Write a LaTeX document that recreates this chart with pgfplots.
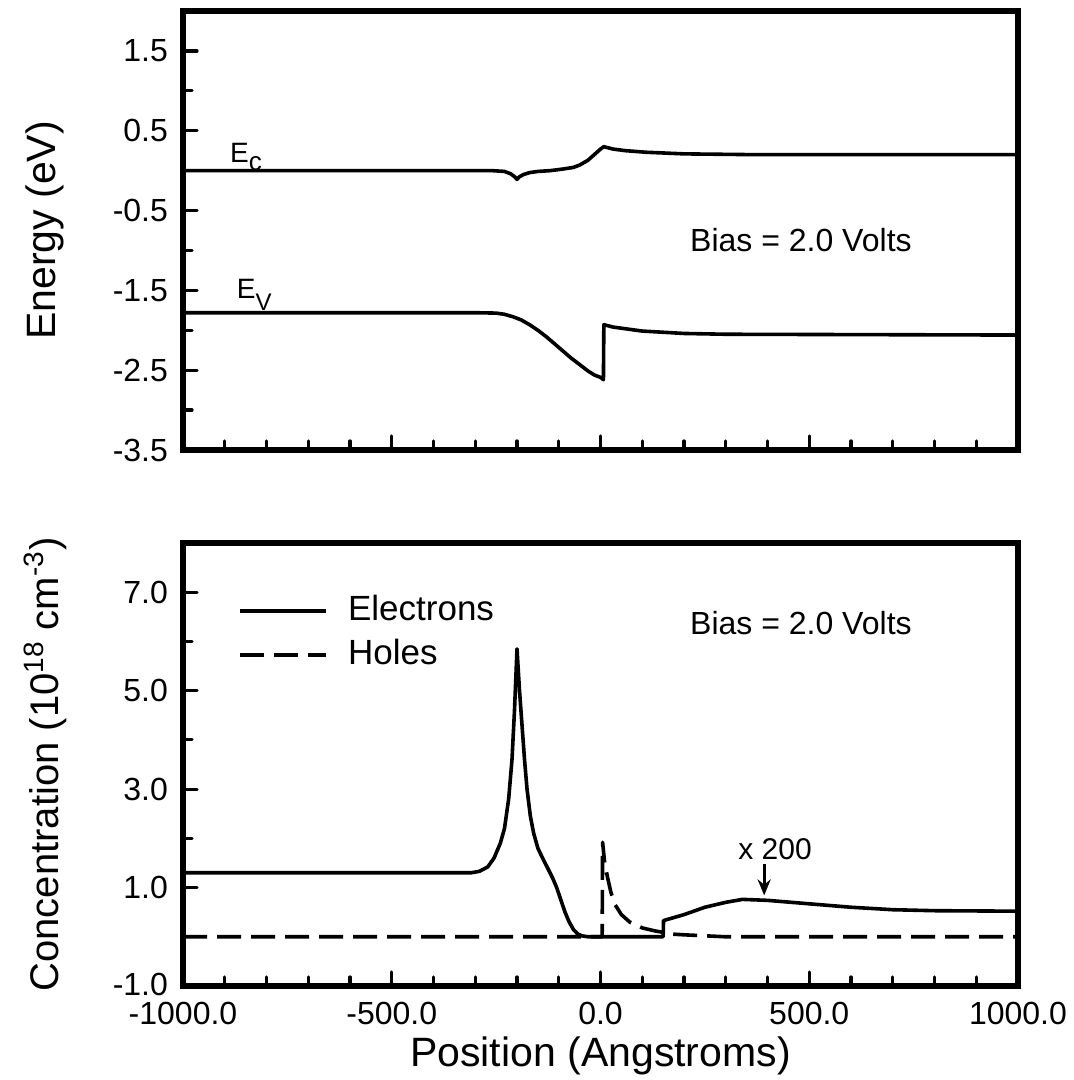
\documentclass[border=0pt]{standalone}
\usepackage{fontspec}
\setmainfont{Liberation Sans}
\usepackage{pgfplots}
\pgfplotsset{compat=1.18}
\usetikzlibrary{arrows.meta}

\pgfplotsset{
  mystyle/.style={
    scale only axis,
    width=417.5pt,
    xmin=-1000, xmax=1000,
    axis line style={line width=2.7pt},
    tick align=inside,
    xtick pos=bottom, ytick pos=left,
    xtick={-1000,-500,0,500,1000},
    minor x tick num=4,
    minor y tick num=1,
    major tick length=7pt,
    minor tick length=4.5pt,
    major tick style={black, line width=1.6pt, line cap=round},
    minor tick style={black, line width=1.6pt, line cap=round},
    tick label style={font=\fontsize{16}{19}\selectfont},
    yticklabel style={xshift=-4pt},
    xticklabel style={yshift=-4.5pt},
    label style={font=\fontsize{20.5}{24}\selectfont},
    every axis plot/.append style={line width=1.8pt, line join=round},
    clip=false,
  }
}

\begin{document}
\begin{tikzpicture}
\path[use as bounding box] (0,0) rectangle (537pt,-540pt);

% ---------------- Top panel: band diagram ----------------
\begin{axis}[
  mystyle,
  at={(91.5pt,-5.5pt)}, anchor=north west,
  height=219.5pt,
  ymin=-3.5, ymax=2.0,
  ytick={-3.5,-2.5,-1.5,-0.5,0.5,1.5},
  yticklabels={-3.5,-2.5,-1.5,-0.5,0.5,1.5},
  xticklabels={},
  ylabel={Energy (eV)},
  ylabel style={at={(axis description cs:-0.165,0.5)}, anchor=center},
]
% Conduction band edge Ec
\addplot[black] coordinates {
(-1000,0.0) (-400,0.0) (-260,0.0) (-230,-0.01) (-215,-0.04) (-205,-0.08)
(-200,-0.11) (-195,-0.08) (-185,-0.05) (-170,-0.025) (-150,-0.01) (-120,0.0)
(-90,0.02) (-65,0.04) (-50,0.07) (-30,0.13) (-15,0.2) (0,0.27) (8,0.3)
(30,0.27) (60,0.25) (110,0.23) (200,0.21) (370,0.2) (1000,0.2)
};
% Valence band edge Ev
\addplot[black] coordinates {
(-1000,-1.78) (-300,-1.78) (-250,-1.785) (-230,-1.80) (-210,-1.83) (-190,-1.87)
(-170,-1.93) (-150,-2.0) (-130,-2.08) (-110,-2.17) (-90,-2.26) (-70,-2.35)
(-50,-2.43) (-30,-2.51) (-15,-2.56) (0,-2.59) (7,-2.62) (8,-1.93)
(30,-1.96) (100,-2.01) (200,-2.04) (300,-2.05) (1000,-2.06)
};
\node[anchor=base west, inner sep=0pt, font=\fontsize{14}{16}\selectfont] at (axis cs:-888,0.1)
  {E\raisebox{-4pt}{\fontsize{13}{14}\selectfont c}};
\node[anchor=base west, inner sep=0pt, font=\fontsize{14}{16}\selectfont] at (axis cs:-872,-1.6)
  {E\raisebox{-6pt}{\fontsize{12}{14}\selectfont V}};
\node[font=\fontsize{16}{19}\selectfont] at (axis cs:480,-0.87) {Bias = 2.0 Volts};
\end{axis}

% ---------------- Bottom panel: carrier concentration ----------------
\begin{axis}[
  mystyle,
  at={(91.5pt,-271.5pt)}, anchor=north west,
  height=221.5pt,
  ymin=-1, ymax=8,
  ytick={-1,1,3,5,7},
  yticklabels={\raisebox{1.5pt}{-1.0},1.0,3.0,5.0,7.0},
  xticklabels={-1000.0,-500.0,0.0,500.0,1000.0},
  xlabel={Position (Angstroms)},
  xlabel style={at={(axis description cs:0.5,-0.157)}, anchor=center},
  ylabel={Concentration (10\textsuperscript{18} cm\textsuperscript{-3})},
  ylabel style={at={(axis description cs:-0.165,0.5)}, anchor=center, font=\fontsize{20}{24}\selectfont},
  legend style={at={(axis cs:-868,6.95)}, anchor=north west, draw=none, fill=none,
    font=\fontsize{17.5}{20}\selectfont, row sep=6pt, inner sep=0pt,
    nodes={inner sep=0pt, text height=12.5pt, text depth=3.5pt},
    /tikz/every odd column/.append style={column sep=10pt}},
  legend cell align=left,
  legend image code/.code={\draw[#1] (0pt,0pt) -- (43pt,0pt);},
]
% Electrons
\addplot[black] coordinates {
(-1000,1.3) (-350,1.3) (-310,1.3) (-290,1.33) (-270,1.42) (-255,1.6) (-240,1.9)
(-230,2.2) (-220,2.8) (-212,3.6) (-206,4.6) (-200,5.85) (-194,5.0) (-188,4.3)
(-182,3.6) (-176,3.0) (-168,2.45) (-160,2.1) (-150,1.8) (-140,1.62) (-128,1.42)
(-115,1.2) (-105,1.0) (-95,0.75) (-85,0.5) (-75,0.3) (-65,0.15) (-55,0.06)
(-45,0.02) (-30,0.0) (150,0.0) (151,0.33) (200,0.45) (250,0.6) (300,0.7)
(340,0.76) (400,0.74) (500,0.67) (600,0.6) (700,0.55) (800,0.53) (1000,0.52)
};
\addlegendentry{Electrons}
% Holes
\addplot[black, dash pattern=on 12pt off 5pt] coordinates {
(-1000,0) (0,0) (4,0) (5,1.92) (10,1.5) (17,1.2) (25,0.9) (35,0.65) (50,0.45)
(70,0.3) (100,0.18) (130,0.12) (150,0.09) (160,0.06) (200,0.04) (250,0.02)
(300,0.0) (1000,0.0)
};
\addlegendentry{Holes}
\node[font=\fontsize{16}{19}\selectfont] at (axis cs:480,6.38) {Bias = 2.0 Volts};
\node[font=\fontsize{15}{18}\selectfont] at (axis cs:418,1.77) {x 200};
\draw[-{Stealth[length=8pt,width=6.5pt]}, line width=1.5pt] (axis cs:392,1.47) -- (axis cs:392,0.84);
\end{axis}
\end{tikzpicture}
\end{document}
